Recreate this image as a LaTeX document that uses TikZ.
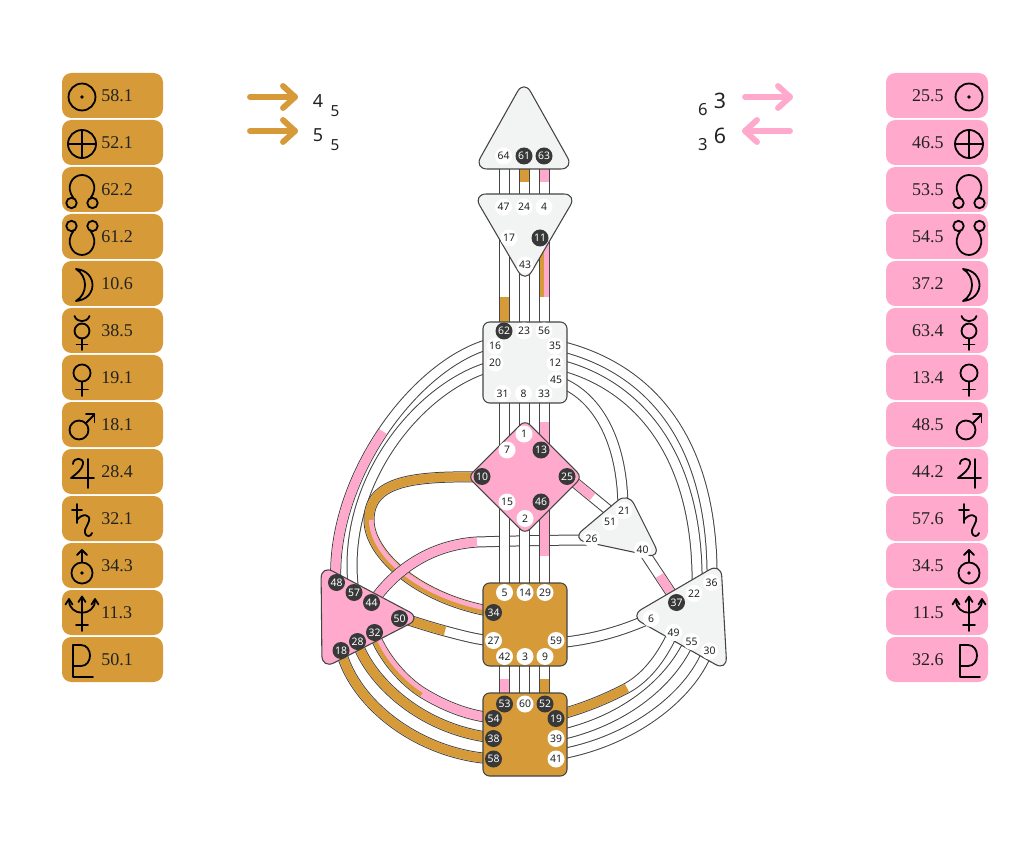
\documentclass[tikz,border=0pt]{standalone}
\usepackage{fontspec}
\setmainfont{Liberation Serif}
\newfontfamily\gatefont{Noto Sans}
\newfontfamily\supfont{Noto Sans}
\usetikzlibrary{calc}
\definecolor{gold}{HTML}{D69B38}
\definecolor{pinkc}{HTML}{FFAACC}
\definecolor{cgray}{HTML}{F2F3F3}
\definecolor{cline}{HTML}{444444}
\definecolor{dgate}{HTML}{383838}
\definecolor{txt}{HTML}{222222}
\tikzset{
 chout/.style={draw=cline, line width=8.25pt},
 chin/.style={draw=white, line width=6.75pt},
 chcol/.style={line width=6.75pt},
 chhalf/.style={line width=3.375pt},
 ctr/.style={draw=cline, line width=0.8pt, rounded corners=10pt, line join=round},
 ctrbox/.style={ctr, rounded corners=5pt},
 gi/.style={circle, fill=white, text=txt, minimum size=12.75pt, inner sep=0pt, font=\gatefont\fontsize{7.8}{8}\selectfont},
 ga/.style={gi, fill=dgate, text=white},
 symline/.style={draw=black, line width=1.35pt, line cap=round, line join=round},
 num/.style={inner sep=0pt, text=txt, font=\fontsize{13.5}{14}\selectfont},
 bigd/.style={inner sep=0pt, text=txt, font=\supfont\fontsize{13.5}{14}\selectfont},
 smd/.style={inner sep=0pt, text=txt, font=\supfont\fontsize{11.5}{12}\selectfont},
 bigr/.style={inner sep=0pt, text=txt, font=\supfont\fontsize{16}{17}\selectfont},
 smr/.style={inner sep=0pt, text=txt, font=\supfont\fontsize{12.5}{13}\selectfont},
 arr/.style={line width=4.4pt, line cap=round, line join=round},
}
\newcommand\band[1]{\draw[chout] #1; \draw[chin] #1;}
% planet symbols, drawn in px units around (0,0), y downwards
\newcommand\symsun{\draw (0,0) circle[radius=10.1pt]; \fill (0,0) circle[radius=1.4pt];}
\newcommand\symearth{\draw (0,0) circle[radius=10.5pt]; \draw (-14,0) -- (14,0); \draw (0,-14) -- (0,14);}
\newcommand\symnn{\draw (-10.5,12) circle[radius=3.9pt]; \draw (10.5,12) circle[radius=3.9pt];
  \draw (-8.5,7.2) .. controls (-17,-4) and (-10,-16) .. (0,-16) .. controls (10,-16) and (17,-4) .. (8.5,7.2);}
\newcommand\symsn{\draw (-10.5,-12) circle[radius=3.9pt]; \draw (10.5,-12) circle[radius=3.9pt];
  \draw (-8.5,-7.2) .. controls (-17,4) and (-10,17) .. (0,17) .. controls (10,17) and (17,4) .. (8.5,-7.2);}
\newcommand\symmoon{\draw (-6,-16) .. controls (16,-14) and (16,14) .. (-6,16) .. controls (6,9) and (6,-9) .. cycle;}
\newcommand\symmerc{\draw (0,-1) circle[radius=5.6pt]; \draw (-7.5,-16) .. controls (-5,-9) and (5,-9) .. (7.5,-16);
  \draw (0,6.5) -- (0,18); \draw (-5.5,12.5) -- (5.5,12.5);}
\newcommand\symvenus{\draw (0,-6) circle[radius=6.4pt]; \draw (0,2.5) -- (0,17); \draw (-6,10.5) -- (6,10.5);}
\newcommand\symmars{\draw (-3,4) circle[radius=7.1pt]; \draw (3.7,-2.7) -- (12.5,-11.5); \draw (4,-12.2) -- (12.5,-12.2) -- (12.5,-3.7);}
\newcommand\symjup{\draw (-9,-9) .. controls (-9,-16) and (2,-16) .. (1,-9) .. controls (0,-3) and (-6,1) .. (-11,5) -- (12,5); \draw (6,-14) -- (6,15);}
\newcommand\symsat{\draw (-5,-16) -- (-5,3); \draw (-10,-10) -- (0,-10);
  \draw (-5,0) .. controls (0,-7) and (9,-6) .. (7,1) .. controls (5,7) and (2,9) .. (3,13) .. controls (4,17) and (9,17) .. (10,13);}
\newcommand\symura{\draw (0,6) circle[radius=7.9pt]; \fill (0,6) circle[radius=1.4pt]; \draw (0,-4.5) -- (0,-17); \draw (-5,-12) -- (0,-17) -- (5,-12);}
\newcommand\symnep{\draw (0,-17) -- (0,17); \draw (-6,11) -- (6,11); \draw (-13,-14) .. controls (-13,3) and (13,3) .. (13,-14);
  \draw (-16.5,-9.5) -- (-13,-15) -- (-9.5,-9.5); \draw (-3.5,-12) -- (0,-17.5) -- (3.5,-12); \draw (9.5,-9.5) -- (13,-15) -- (16.5,-9.5);}
\newcommand\sympluto{\draw (-9,-16) -- (-9,16) -- (11,16); \draw (-9,-16) -- (-1,-16) .. controls (11,-16) and (11,5) .. (-1,5) -- (-9,5);}
\newcommand\symb[3]{\begin{scope}[shift={(#2,#3)}, symline]%
  \ifcase#1 \symsun\or\symearth\or\symnn\or\symsn\or\symmoon\or\symmerc\or\symvenus\or\symmars\or\symjup\or\symsat\or\symura\or\symnep\or\sympluto\fi
  \end{scope}}
\begin{document}
\begin{tikzpicture}[x=0.75pt,y=-0.75pt]
\path[fill=white] (0,0) rectangle (1024,841);

% ---------- side panels ----------
\foreach \i/\n in {0/58.1,1/52.1,2/62.2,3/61.2,4/10.6,5/38.5,6/19.1,7/18.1,8/28.4,9/32.1,10/34.3,11/11.3,12/50.1}{
  \pgfmathsetmacro\yt{73+47*\i}
  \pgfmathsetmacro\yc{95.5+47*\i}
  \draw[fill=gold, draw=none, rounded corners=7pt] (62,\yt) rectangle ({163},{\yt+45});
  \symb{\i}{82}{\yc+1.5}
  \node[num, anchor=west] (Ln\i) at (101,\yc) {\n};
}
\foreach \i/\n in {0/25.5,1/46.5,2/53.5,3/54.5,4/37.2,5/63.4,6/13.4,7/48.5,8/44.2,9/57.6,10/34.5,11/11.5,12/32.6}{
  \pgfmathsetmacro\yt{73+47*\i}
  \pgfmathsetmacro\yc{95.5+47*\i}
  \draw[fill=pinkc, draw=none, rounded corners=7pt] (886,\yt) rectangle ({988},{\yt+45});
  \node[num, anchor=east] (Rn\i) at (944,\yc) {\n};
  \symb{\i}{969}{\yc+1.5}
}

% ---------- top arrows and numbers ----------
\draw[arr, gold] (250,97) -- (295,97);
\draw[arr, gold] (283,86) -- (295,97) -- (283,108);
\draw[arr, gold] (250,131) -- (295,131);
\draw[arr, gold] (283,120) -- (295,131) -- (283,142);
\node[bigd] (a1n) at (318,101) {4};
\node[smd] (a1s) at (335,111) {5};
\node[bigd] (a2n) at (318,135) {5};
\node[smd] (a2s) at (335,145) {5};
\draw[arr, pinkc] (745,97) -- (790,97);
\draw[arr, pinkc] (778,86) -- (790,97) -- (778,108);
\draw[arr, pinkc] (745,131) -- (790,131);
\draw[arr, pinkc] (757,120) -- (745,131) -- (757,142);
\node[smr] (b1s) at (703,110) {6};
\node[bigr] (b1n) at (720,101) {3};
\node[smr] (b2s) at (703,145) {3};
\node[bigr] (b2n) at (720,136) {6};

% ---------- channels ----------
% throat -> spleen
\band{(493,343) .. controls (415,362) and (330,480) .. (336,583)}
\draw[chcol, pinkc] (383,431.5) .. controls (352.75,476.25) and (333,531.5) .. (336,583);
\band{(493,366) .. controls (422,384) and (338,482) .. (354,593)}
% throat -> solar plexus / heart
\band{(560,346) .. controls (650,368) and (714,440) .. (712,582)}
\band{(560,365) .. controls (638,385) and (700,455) .. (697,590)}
\band{(560,382) .. controls (600,398) and (623,445) .. (623,510)}
% 10-34
\band{(482,477) .. controls (415,476) and (369,480) .. (369,520) .. controls (369,555) and (420,600) .. (494,612)}
\draw[chcol, gold] (482,477) .. controls (415,476) and (369,480) .. (369,520);
\draw[chcol, gold] (369,520) .. controls (369,555) and (420,600) .. (494,612);
\draw[chhalf, pinkc] (371.25,520) .. controls (371.25,555) and (420.36,597.78) .. (494.36,609.78);
% 26-44
\band{(591,540) .. controls (560,540) and (510,541) .. (477,542) .. controls (430,545) and (395,570) .. (372,603)}
\draw[chcol, pinkc] (477,542) .. controls (430,545) and (395,570) .. (372,603);
% 25-51, 37-40, 6-59, 50-27
\band{(567,476) -- (618,518)}
\draw[chcol, pinkc] (567,476) -- (592.5,497);
\band{(642,549) -- (677,602)}
\draw[chcol, pinkc] (659.5,575.5) -- (677,602);
\band{(556,643) .. controls (590,640) and (620,632) .. (651,618)}
\band{(399,617) .. controls (415,622) and (430,627) .. (445,631) .. controls (460,635) and (478,640) .. (494,641)}
\draw[chcol, gold] (399,617) .. controls (415,622) and (430,627) .. (445,631);
% spleen -> root
\band{(341,651) .. controls (355,705) and (420,755) .. (494,759)}
\draw[chcol, gold] (341,651) .. controls (355,705) and (420,755) .. (494,759);
\band{(357,642) .. controls (370,680) and (420,730) .. (494,738)}
\draw[chcol, gold] (357,642) .. controls (370,680) and (420,730) .. (494,738);
\band{(374,633) .. controls (383,658) and (405,682) .. (423,693) .. controls (446,707) and (470,716) .. (494,718)}
\draw[chcol, gold] (374,633) .. controls (383,658) and (405,682) .. (423,693);
\draw[chhalf, pinkc] (376.1,632.2) .. controls (385.1,657.2) and (406.2,680.1) .. (424.2,691.1);
\draw[chcol, pinkc] (423,693) .. controls (446,707) and (470,716) .. (494,718);
% root -> solar plexus
\band{(555,755) .. controls (625,744) and (685,702) .. (706,655)}
\band{(555,736) .. controls (615,724) and (665,690) .. (688,644)}
\band{(555,716) .. controls (585,708) and (608,698) .. (627,688) .. controls (645,678) and (660,660) .. (672,635)}
\draw[chcol, gold] (555,716) .. controls (585,708) and (608,698) .. (627,688);
% verticals
\band{(504,156) -- (504,207)}
\band{(524,156) -- (524,207)}
\draw[chcol, gold] (524,160) -- (524,182);
\band{(544,156) -- (544,207)}
\draw[chcol, pinkc] (544,160) -- (544,182);
\band{(504,238) -- (504,331)}
\draw[chcol, gold] (504,297) -- (504,331);
\band{(524,265) -- (524,331)}
\band{(544,238) -- (544,331)}
\draw[chcol, gold] (544,238) -- (544,297);
\draw[chhalf, pinkc] (546.25,238) -- (546.25,297);
\band{(504,394) -- (504,460)}
\band{(524,394) -- (524,434)}
\band{(544,394) -- (544,455)}
\draw[chcol, pinkc] (544,422) -- (544,455);
\band{(504,495) -- (504,592)}
\band{(524,518) -- (524,592)}
\band{(544,495) -- (544,592)}
\draw[chcol, pinkc] (544,495) -- (544,556);
\band{(504,656) -- (504,704)}
\draw[chcol, pinkc] (504,679) -- (504,704);
\band{(524,656) -- (524,704)}
\band{(544,656) -- (544,704)}
\draw[chcol, gold] (544,679) -- (544,704);

% ---------- centers ----------
\draw[ctr, fill=cgray] (524,80) -- (574,169) -- (474,169) -- cycle;
\draw[ctr, fill=cgray] (473,194) -- (577,194) -- (525,283) -- cycle;
\draw[ctrbox, fill=cgray] (483,322) rectangle (567,403);
\draw[ctr, rounded corners=5pt, fill=pinkc] (525,420) -- (582,477) -- (525,534) -- (468,477) -- cycle;
\draw[ctr, fill=cgray] (628,492) -- (661,558) -- (572,539) -- cycle;
\draw[ctr, fill=pinkc] (321,565) -- (421,618) -- (322,669) -- cycle;
\draw[ctr, fill=cgray] (721,563) -- (727,671) -- (630,616) -- cycle;
\draw[ctrbox, fill=gold] (483,583) rectangle (567,666);
\draw[ctrbox, fill=gold] (483,693) rectangle (567,776);

% ---------- gates ----------
\foreach \n/\x/\y in {64/503.5/156, 47/503.5/207, 24/524/207, 4/544/207, 17/509/238, 43/525/265,
  23/524/331, 56/544/331, 16/495/346, 35/555/346, 20/495/363, 12/555/363, 45/556/380, 31/502.5/393.5, 8/523.5/393.5, 33/544/393.5,
  1/524/434, 7/507/450, 15/507/502, 2/525/518.5,
  21/624/510.5, 51/610/522, 26/591.5/538.5, 40/642.5/549.5,
  36/711.5/582.5, 22/694/593.5, 6/651/618.5, 49/673.5/632.5, 55/691.5/641.5, 30/709.5/651,
  5/504.5/592.5, 14/525/592.5, 29/545/592.5, 27/493.5/640.5, 59/556/640.5, 42/504.5/656.5, 3/525/656.5, 9/545/656.5,
  60/525/704, 39/556/738.5, 41/556/759}
  {\node[gi] (g\n) at (\x,\y) {\n};}
\foreach \n/\x/\y in {61/524/156, 63/544/156, 11/540/238, 62/504/331,
  13/541/450, 10/482/476.5, 25/567/476.5, 46/541/502,
  48/336.5/582.5, 57/354/592.5, 44/371.5/602.5, 50/399.5/618.5, 32/374.5/632.5, 28/357.5/641.5, 18/341/650.5,
  37/676.5/602.5, 34/493.5/612.5,
  53/504.5/704, 52/545/704, 54/493.5/718.5, 19/556/718.5, 38/493.5/738.5, 58/493.5/759}
  {\node[ga] (g\n) at (\x,\y) {\n};}
\end{tikzpicture}
\end{document}
